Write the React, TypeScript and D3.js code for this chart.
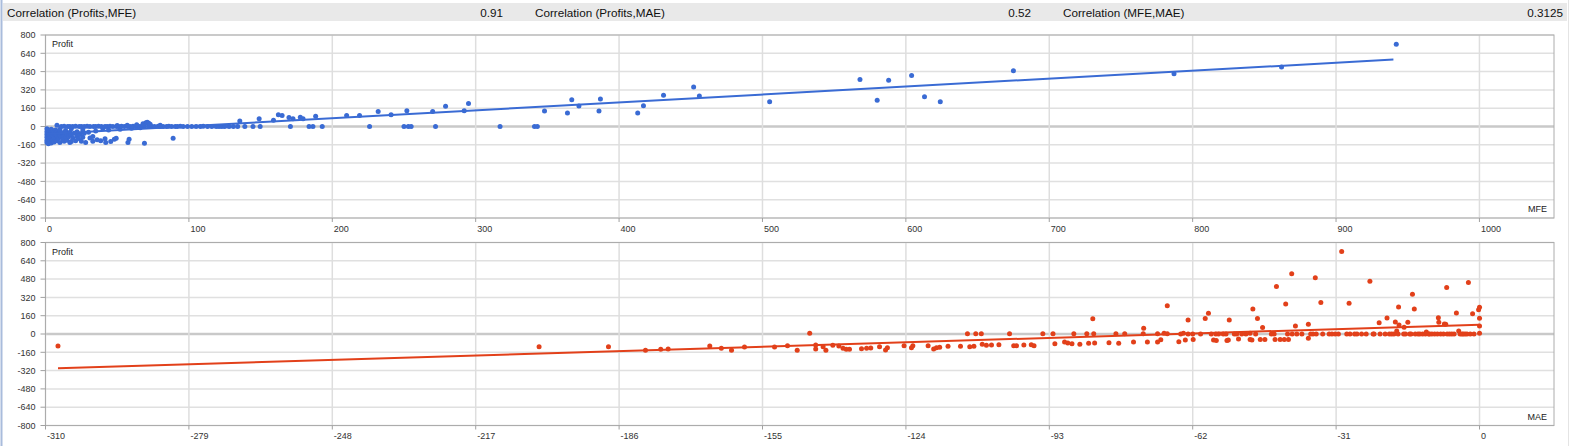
import React, { useEffect, useRef } from 'react';
import * as d3 from 'd3';

// Header correlations
const corrLabels = ['Correlation (Profits,MFE)', 'Correlation (Profits,MAE)', 'Correlation (MFE,MAE)'];
const corrValues = ['0.91', '0.52', '0.3125'];

// Axis ticks
const profitTicks = [800, 640, 480, 320, 160, 0, -160, -320, -480, -640, -800];
const mfeTicks = [0, 100, 200, 300, 400, 500, 600, 700, 800, 900, 1000];
const maeTicks = [-310, -279, -248, -217, -186, -155, -124, -93, -62, -31, 0];

// Trend lines (slope, intercept)
const mfeTrend = { slope: 0.694, intercept: -67, from: 1, to: 940 };
const maeTrend = { slope: 1.238, intercept: 81, from: -307.3, to: 0 };

// MFE vs Profit
const mfePoints: [number, number][] = [
  // dense cluster of losing trades
  [1, -20], [1, -45], [1, -70], [1, -95], [1, -120], [1, -140], [2, -30], [2, -60], [2, -85], [2, -110],
  [2, -150], [3, -40], [3, -75], [3, -130], [4, -25], [4, -55], [4, -100], [4, -145], [5, -35], [5, -80],
  [5, -120], [6, -50], [6, -90], [6, -135], [7, -30], [7, -65], [7, -110], [8, -45], [8, -85], [8, -125],
  [9, -60], [9, -100], [10, -40], [10, -75], [10, -140], [11, -95], [12, -55], [12, -87], [12, -115], [13, -80],
  [13, -130], [14, -45], [14, -100], [15, -65], [15, -120], [16, -90], [17, -50], [17, -140], [18, -75], [18, -131],
  [19, -100], [20, -60], [21, -125], [22, -85], [23, -105], [24, -70], [25, -130], [26, -95], [27, -60], [28, -140],
  [31, -100], [33, -88], [33, -130], [36, -116], [38.5, -125], [41.5, -108], [42, -140], [45.5, -131], [48, -111],
  [49.3, -102], [57.5, -140], [58.3, -111], [69, -146], [89, -102],
  // along the trend line
  [10, -25], [14, -35], [18, -20], [22, -45], [26, -30], [30, -50], [35, -40], [40, -20], [44, -30], [52, -25],
  [60, -15], [66, -10],
  // row at zero
  [8, 12], [11, 0], [13, 2], [15.5, 0], [17, 1], [19, 0], [21, 2], [23.5, 0], [25, 1], [27, 0],
  [29, 2], [31, 0], [33.5, 1], [35, 0], [37, 2], [39, 0], [41.5, 1], [43, 0], [45, 2], [47, 0],
  [49.5, 1], [51, 0], [53, 3], [55, 0], [57.5, 1], [59, 0], [61, 2], [63, 0], [65.5, 1], [67, 0],
  [69, 2], [72, 0], [74, 1], [76, 0], [78.5, 2], [80, 0], [82, 1], [84.5, 0], [86, 2], [88, 0],
  [90.5, 1], [92, 0], [94, 2], [96, 0], [99, 1], [102, 0], [105, 1], [108, 0], [110, 2], [113, 0],
  [116, 1], [119, 0], [121, 0], [123, 1], [125, 0], [128, 0], [131, 1], [134, 0], [139, 0], [144.7, 0],
  [149.7, 0], [170.8, 0], [183.8, 0], [186.5, 0], [193, 0],
  // small winners
  [50, 8], [57, 12], [63.6, 15], [68, 25], [70, 32], [71, 38], [72, 28], [73, 20], [80, 10],
  [135.5, 49], [149, 67], [159, 55], [162.4, 102], [165, 96], [169.8, 79], [172.6, 67], [177.7, 81],
  [179.6, 67], [188.4, 90],
  // larger MFE
  [210, 97], [219, 97], [226, 0], [232, 132], [241, 103], [250, 0], [253, 0], [255, 0], [252, 138],
  [270, 132], [272, 0], [279, 176], [292, 138], [295, 202], [317, 0], [341, 0], [343, 0], [348, 135],
  [364, 117], [367, 234], [372, 179], [386, 135], [387, 240], [413, 117], [417, 182], [431, 273],
  [452, 346], [456, 267], [505, 217], [568, 410], [580, 229], [588, 404], [604, 445], [613, 261],
  [624, 217], [675, 487], [787, 462], [862, 521], [942, 720],
];

// MAE vs Profit
const maePoints: [number, number][] = [
  [-307.3, -105], [-203.3, -111], [-188.3, -111], [-180.3, -143], [-177, -134], [-175.4, -131], [-166.4, -105],
  [-163.9, -125], [-161.7, -143], [-158.9, -114], [-152.4, -114], [-149.6, -102], [-147.5, -143],
  [-144.8, 6], [-143.5, -96], [-143.5, -131], [-141.9, -111], [-141.3, -143], [-139.8, -99], [-138.5, -105],
  [-137.6, -125], [-136.9, -134], [-136.2, -134], [-133.6, -128], [-132.5, -125], [-131.6, -122], [-129.7, -111],
  [-128.4, -140], [-128, -120], [-124.4, -102], [-122.8, -120], [-122.5, -102], [-119.2, -102], [-118, -131],
  [-117.4, -120], [-116.7, -116], [-114.9, -108], [-112.2, -108], [-110.7, 3], [-110.2, -111], [-109.3, -108],
  [-108.9, 3], [-107.7, 3], [-107.5, -90], [-106.6, -99], [-105.5, -96], [-103.9, -93], [-101.6, 3],
  [-100.7, -102], [-100.1, -102], [-98.5, -96], [-96.9, -93], [-96.3, -102], [-94.4, 3], [-92.2, 3],
  [-91.8, -85], [-89.7, -70], [-89, -79], [-88.1, -85], [-87.7, 3], [-86.4, -90], [-84.9, 3], [-84.5, -81],
  [-83.6, 134], [-83.4, 3], [-83.2, -79], [-80.1, -76], [-78.6, 3], [-78, -81], [-76.7, 3], [-74.8, -70],
  [-72.6, 50], [-72.7, 3], [-71.8, -70], [-69.6, 3], [-68.9, -50], [-69.6, -70], [-68.2, 6], [-67.5, 3],
  [-67.5, 247], [-65, -67], [-64.6, 0], [-64, 6], [-63.6, -53], [-63, 0], [-63, 123], [-62, 0], [-61.9, -47],
  [-60.3, 0], [-59.3, 135], [-58.6, 181], [-58, 0], [-57.5, -53], [-57, 0], [-56.9, -56], [-56.4, 0],
  [-55.4, 0], [-54.8, 0], [-54.6, -56], [-54.3, -53], [-54.1, 123], [-53, 0], [-52.5, 0], [-52.1, -44],
  [-51.4, 0], [-50.5, 0], [-49.6, 6], [-49.6, -47], [-49.2, -53], [-49, 219], [-48.4, 0], [-48, 135],
  [-47.4, -47], [-46.9, 56], [-46.4, -47], [-45, 0], [-44.4, 0], [-44.2, -47], [-43.9, 415], [-43.1, -47],
  [-42.2, -47], [-41.9, 263], [-41.5, 0], [-41.3, -47], [-40.6, 527], [-40.5, 0], [-39.8, 70], [-39.5, 0],
  [-38.4, 0], [-37, 85], [-37, -38], [-36.5, 0], [-36, 0], [-35.5, 491], [-35.3, 0], [-34.3, 275],
  [-33.9, 0], [-32.5, 0], [-31.9, 0], [-31.2, 0], [-30.5, 0], [-29.8, 722], [-28.7, 0], [-28.2, 269],
  [-28, 0], [-27, 0], [-26.5, 0], [-25.5, 0], [-24.5, 0], [-23.7, 462], [-23, 0], [-22.8, 0], [-21.7, 99],
  [-21.5, 0], [-20.4, 0], [-20, 140], [-19.5, 0], [-19, 0], [-18.5, 0], [-18.2, 105], [-17.9, 26],
  [-17.6, 0], [-17.5, 237], [-17.4, 79], [-16.4, 0], [-16.3, 58], [-16, 0], [-15.5, 102], [-15.1, 0],
  [-14.8, 0], [-14.5, 348], [-14.1, 219], [-13.9, 0], [-13.3, 0], [-12.9, 0], [-12.3, 0], [-11.7, 0],
  [-11.5, 18], [-11, 0], [-10.8, 0], [-10.3, 0], [-9.7, 0], [-9.1, 0], [-8.9, 143], [-8.8, 102],
  [-8.4, 0], [-7.8, 0], [-7.6, 88], [-7.3, 85], [-7.1, 407], [-7, 0], [-6.5, 0], [-6, 0], [-5.5, 0],
  [-5, 184], [-4.5, 26], [-4.2, 0], [-3.8, 0], [-3.5, 0], [-3.1, 0], [-2.7, 0], [-2.4, 450], [-2, 0],
  [-1.5, 178], [-1.2, 0], [-0.2, 211], [0, 234], [0, 137], [0, 70], [0, 6],
];

interface Panel {
  points: [number, number][];
  xDomain: [number, number];
  xTicks: number[];
  top: number;
  bottom: number;
  color: string;
  xName: string;
  trend: { slope: number; intercept: number; from: number; to: number };
}

const W = 1571;
const H = 446;
const left = 45.5;
const right = 1554;
const labelFont = '"Liberation Sans", Arial, sans-serif';

const App: React.FC = () => {
  const svgRef = useRef<SVGSVGElement | null>(null);

  useEffect(() => {
    if (!svgRef.current) return;
    const svg = d3.select(svgRef.current);
    svg.selectAll('*').remove();

    // window frame
    svg.append('rect').attr('x', 0).attr('y', 0).attr('width', W).attr('height', H).attr('fill', '#fff');
    svg.append('line').attr('x1', 1.5).attr('x2', 1.5).attr('y1', 0).attr('y2', H)
      .attr('stroke', '#a9bcdc').attr('stroke-width', 2);
    svg.append('line').attr('x1', 1568.5).attr('x2', 1568.5).attr('y1', 0).attr('y2', H)
      .attr('stroke', '#e4e4e4').attr('stroke-width', 1);

    // header bar
    svg.append('rect').attr('x', 3).attr('y', 3).attr('width', 1564).attr('height', 18).attr('fill', '#e9e9e9');
    const colStart = [7, 535, 1063];
    const colEnd = [503, 1031, 1563];
    corrLabels.forEach((lab, i) => {
      svg.append('text').attr('x', colStart[i]).attr('y', 16.5).text(lab)
        .attr('font-family', labelFont).attr('font-size', 11.7).attr('fill', '#111');
      svg.append('text').attr('x', colEnd[i]).attr('y', 16.5).text(corrValues[i])
        .attr('text-anchor', 'end')
        .attr('font-family', labelFont).attr('font-size', 11.7).attr('fill', '#111');
    });

    const drawPanel = (p: Panel) => {
      const g = svg.append('g');
      const x = d3.scaleLinear().domain(p.xDomain).range([left, right]);
      const y = d3.scaleLinear().domain([-800, 800]).range([p.bottom, p.top]);

      // horizontal grid
      profitTicks.forEach(t => {
        g.append('line').attr('x1', left).attr('x2', right).attr('y1', y(t)).attr('y2', y(t))
          .attr('stroke', t === 0 ? '#c9c9c9' : '#e0e0e0').attr('stroke-width', t === 0 ? 2.5 : 1.5);
      });
      // vertical grid
      p.xTicks.forEach(t => {
        g.append('line').attr('x1', x(t)).attr('x2', x(t)).attr('y1', p.top).attr('y2', p.bottom)
          .attr('stroke', '#dedede').attr('stroke-width', 1.5);
      });

      // frame
      g.append('rect').attr('x', left).attr('y', p.top).attr('width', right - left).attr('height', p.bottom - p.top)
        .attr('fill', 'none').attr('stroke', '#acacac').attr('stroke-width', 1);

      // y axis ticks + labels
      profitTicks.forEach(t => {
        g.append('line').attr('x1', left - 5).attr('x2', left).attr('y1', y(t)).attr('y2', y(t))
          .attr('stroke', '#a0a0a0');
        g.append('text').attr('x', 35.5).attr('y', y(t) + 3.2).text(String(t))
          .attr('text-anchor', 'end').attr('font-family', labelFont).attr('font-size', 9).attr('fill', '#333');
      });
      // x axis ticks + labels
      p.xTicks.forEach(t => {
        g.append('line').attr('x1', x(t)).attr('x2', x(t)).attr('y1', p.bottom).attr('y2', p.bottom + 4)
          .attr('stroke', '#a0a0a0');
        g.append('text').attr('x', x(t) + 1.5).attr('y', p.bottom + 13.5).text(String(t))
          .attr('font-family', labelFont).attr('font-size', 9).attr('fill', '#333');
      });

      g.append('text').attr('x', 52).attr('y', p.top + 12).text('Profit')
        .attr('font-family', labelFont).attr('font-size', 9).attr('fill', '#222');
      g.append('text').attr('x', 1547).attr('y', p.bottom - 6).text(p.xName)
        .attr('text-anchor', 'end').attr('font-family', labelFont).attr('font-size', 9).attr('fill', '#222');

      // points
      g.append('g').selectAll('circle').data(p.points).join('circle')
        .attr('cx', d => x(d[0])).attr('cy', d => y(d[1])).attr('r', 2.5).attr('fill', p.color);

      // trend line
      const tr = p.trend;
      const line = d3.line<number>().x(v => x(v)).y(v => y(tr.slope * v + tr.intercept));
      g.append('path').datum([tr.from, tr.to]).attr('d', line)
        .attr('fill', 'none').attr('stroke', p.color).attr('stroke-width', 2);
    };

    drawPanel({
      points: mfePoints, xDomain: [0, 1052], xTicks: mfeTicks, top: 35, bottom: 218,
      color: '#3a6bd4', xName: 'MFE', trend: mfeTrend,
    });
    drawPanel({
      points: maePoints, xDomain: [-310, 16.1], xTicks: maeTicks, top: 242.5, bottom: 425.5,
      color: '#e2401a', xName: 'MAE', trend: maeTrend,
    });
  }, []);

  return (
    <svg ref={svgRef} width={W} height={H}
      style={{ position: 'absolute', left: 0, top: 0, display: 'block' }} />
  );
};

export default App;
